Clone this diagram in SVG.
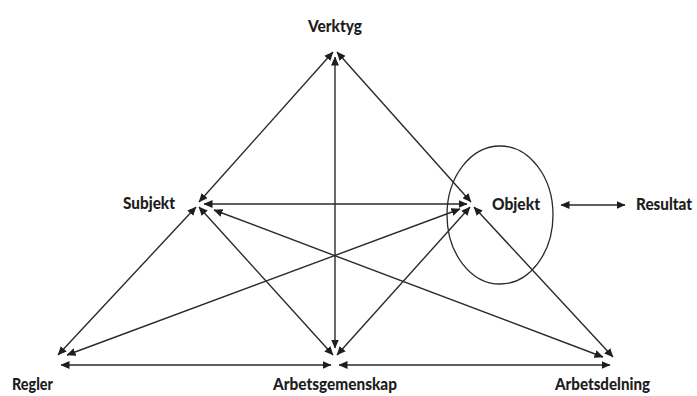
<svg xmlns="http://www.w3.org/2000/svg" width="697" height="396" viewBox="0 0 697 396">
<style>
.lbl{font-family:Lato,"Open Sans","Liberation Sans",sans-serif;font-weight:900;font-size:17px;fill:#1e1e1e}
.c line{stroke:#2a2a2a;stroke-width:1.4;fill:none;marker-start:url(#ah);marker-end:url(#ah)}
</style>
<defs>
<marker id="ah" viewBox="0 0 9 8" refX="8.5" refY="4" markerWidth="9" markerHeight="8" markerUnits="userSpaceOnUse" orient="auto-start-reverse">
<path d="M0,0 L9,4 L0,8 z" fill="#1e1e1e"/>
</marker>
</defs>
<rect width="697" height="396" fill="#ffffff"/>
<g class="c" id="connectors">
<line x1="333" y1="52" x2="199" y2="202"/>
<line x1="337" y1="52" x2="471" y2="202"/>
<line x1="335" y1="57" x2="335" y2="348"/>
<line x1="204" y1="204" x2="467" y2="204"/>
<line x1="196" y1="207" x2="58" y2="355"/>
<line x1="460" y1="209" x2="67" y2="355"/>
<line x1="199" y1="207" x2="333" y2="355"/>
<line x1="470" y1="207" x2="337" y2="355"/>
<line x1="214" y1="210" x2="603" y2="357"/>
<line x1="474" y1="207" x2="613" y2="357"/>
<line x1="61" y1="365" x2="331" y2="365"/>
<line x1="339" y1="365" x2="610" y2="365"/>
<line x1="561" y1="205" x2="625" y2="205"/>
</g>
<g id="verktyg"><text class="lbl" x="308" y="32" textLength="54" lengthAdjust="spacingAndGlyphs">Verktyg</text></g>
<g id="subjekt"><text class="lbl" x="123" y="209" textLength="52" lengthAdjust="spacingAndGlyphs">Subjekt</text></g>
<g id="objekt">
<ellipse cx="500" cy="215" rx="53" ry="69" fill="none" stroke="#2a2a2a" stroke-width="1.3"/>
<text class="lbl" x="492" y="210" textLength="48" lengthAdjust="spacingAndGlyphs">Objekt</text>
</g>
<g id="resultat"><text class="lbl" x="636" y="210" textLength="56" lengthAdjust="spacingAndGlyphs">Resultat</text></g>
<g id="regler"><text class="lbl" x="12" y="390" textLength="41" lengthAdjust="spacingAndGlyphs">Regler</text></g>
<g id="arbetsgemenskap"><text class="lbl" x="273" y="390" textLength="124" lengthAdjust="spacingAndGlyphs">Arbetsgemenskap</text></g>
<g id="arbetsdelning"><text class="lbl" x="555" y="390" textLength="95" lengthAdjust="spacingAndGlyphs">Arbetsdelning</text></g>
</svg>
